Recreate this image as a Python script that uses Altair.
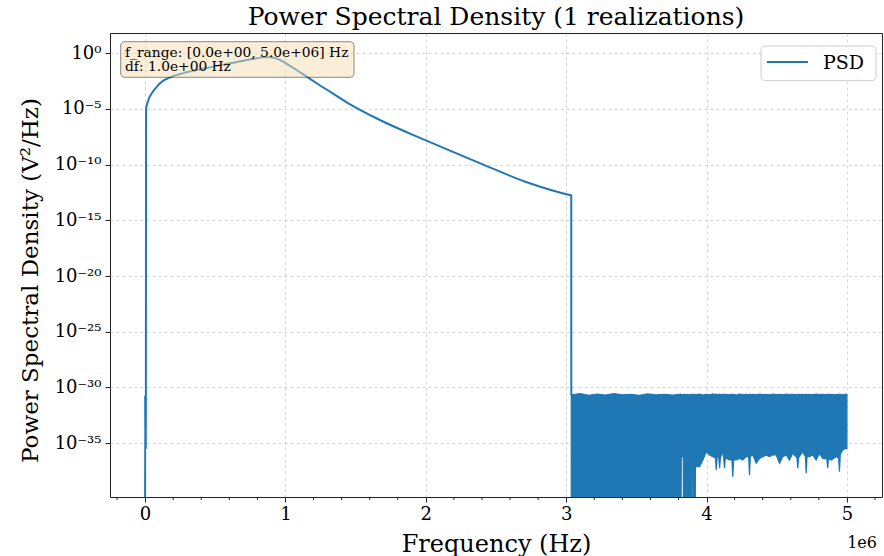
import altair as alt
import pandas as pd

FONT = "DejaVu Serif"
BLUE = "#1f77b4"

# ---------------- data ----------------
# Main PSD trace: frequency (Hz) and log10 of PSD (V^2/Hz)
curve_freq_hz = [0, 800, 1600, 2400, 3200, 4000, 4800, 5600, 7000,
                 23500, 47700, 83300, 130000, 178000, 249000, 368000,
                 486000, 605000, 724000, 795000, 842000, 890000, 937000,
                 984000, 1032000, 1080000, 1151000, 1222000, 1317000,
                 1436000, 1673000, 1993000, 2384000, 2740000, 3025000,
                 3036000, 3036500]
curve_log10_psd = [-42, -30.7, -35.4, -30.8, -35.3, -30.7, -35.4, -30.7, -5.0,
                   -4.19, -3.59, -3.0, -2.46, -2.16, -1.86, -1.50,
                   -1.20, -0.90, -0.60, -0.45, -0.36, -0.36, -0.48,
                   -0.75, -1.14, -1.50, -2.10, -2.69, -3.45,
                   -4.40, -5.99, -7.78, -9.86, -11.67, -12.72,
                   -12.75, -30.7]

# Noise floor above the cut-off: envelope of the dense trace (MHz, log10 PSD)
noise_freq_mhz = [3.036, 3.10, 3.16, 3.22, 3.28, 3.34, 3.40, 3.46, 3.52, 3.58,
                  3.64, 3.70, 3.76, 3.818, 3.820, 3.834, 3.836, 3.891, 3.893,
                  3.901, 3.903, 3.919, 3.921, 3.950, 3.974, 3.998, 4.021,
                  4.045, 4.063, 4.069, 4.075, 4.080, 4.087, 4.093, 4.099,
                  4.116, 4.122, 4.128, 4.134, 4.140, 4.164, 4.181, 4.187,
                  4.193, 4.211, 4.235, 4.258, 4.283, 4.300, 4.306, 4.312,
                  4.330, 4.354, 4.377, 4.401, 4.425, 4.448, 4.472, 4.496,
                  4.520, 4.543, 4.567, 4.591, 4.614, 4.644, 4.650, 4.656,
                  4.685, 4.704, 4.710, 4.716, 4.733, 4.757, 4.781, 4.804,
                  4.828, 4.857, 4.863, 4.869, 4.888, 4.923, 4.941, 4.947,
                  4.953, 4.970, 4.994, 5.000]
noise_upper_log10 = [-30.65, -30.55, -30.70, -30.60, -30.68, -30.55, -30.66, -30.62,
                     -30.70, -30.58, -30.66, -30.62, -30.68, -30.60, -30.64, -30.66,
                     -30.62, -30.65, -30.60, -30.66, -30.64, -30.62, -30.66, -30.60,
                     -30.68, -30.62, -30.66, -30.58, -30.64, -30.60, -30.66, -30.62,
                     -30.66, -30.60, -30.64, -30.62, -30.66, -30.60, -30.64, -30.62,
                     -30.66, -30.60, -30.64, -30.62, -30.68, -30.60, -30.64, -30.62,
                     -30.66, -30.60, -30.64, -30.62, -30.66, -30.60, -30.64, -30.62,
                     -30.66, -30.60, -30.64, -30.62, -30.66, -30.60, -30.64, -30.62,
                     -30.66, -30.60, -30.64, -30.62, -30.66, -30.60, -30.64, -30.62,
                     -30.66, -30.60, -30.64, -30.62, -30.66, -30.60, -30.64, -30.62,
                     -30.66, -30.60, -30.64, -30.62, -30.66, -30.60, -30.64]
noise_lower_log10 = [-42, -42, -42, -42, -42, -42, -42, -42, -42, -42,
                     -42, -42, -42, -42, -36.24, -36.24, -42, -42, -36.26,
                     -36.26, -42, -42, -37.11, -37.11, -36.51, -35.76, -36.06,
                     -36.21, -36.3, -37.40, -36.3, -36.21, -36.3, -37.25, -36.3,
                     -35.76, -36.3, -37.25, -36.3, -36.36, -36.51, -36.5, -38.01,
                     -36.5, -36.51, -36.36, -36.51, -36.21, -36.2, -37.86, -36.2,
                     -36.06, -36.80, -36.36, -36.21, -36.06, -36.21, -36.06, -36.06,
                     -36.80, -36.21, -36.06, -36.51, -35.91, -36.3, -37.25, -36.3,
                     -35.76, -36.2, -37.70, -36.2, -36.21, -36.06, -36.51, -35.91,
                     -36.36, -36.4, -37.25, -36.4, -36.51, -36.21, -36.3, -37.56,
                     -36.0, -35.61, -35.46, -35.46]

# Axis ticks / labels
x_major_hz = [0, 1e6, 2e6, 3e6, 4e6, 5e6]
x_minor_hz = [-0.2e6, 0.2e6, 0.4e6, 0.6e6, 0.8e6, 1.2e6, 1.4e6, 1.6e6, 1.8e6,
              2.2e6, 2.4e6, 2.6e6, 2.8e6, 3.2e6, 3.4e6, 3.6e6, 3.8e6,
              4.2e6, 4.4e6, 4.6e6, 4.8e6, 5.2e6]
y_major = [1e0, 1e-5, 1e-10, 1e-15, 1e-20, 1e-25, 1e-30, 1e-35]
y_major_labels = ["10⁰", "10⁻⁵", "10⁻¹⁰", "10⁻¹⁵", "10⁻²⁰", "10⁻²⁵", "10⁻³⁰", "10⁻³⁵"]
x_domain = [-0.25e6, 5.25e6]
y_domain = [1.48e-40, 66.0]

title_text = "Power Spectral Density (1 realizations)"
x_title = "Frequency (Hz)"
y_title = "Power Spectral Density (V²/Hz)"
info_lines = ["f_range: [0.0e+00, 5.0e+06] Hz", "df: 1.0e+00 Hz"]
legend_label = "PSD"
offset_label = "1e6"

# ---------------- tables ----------------
curve_df = pd.DataFrame({"f": curve_freq_hz,
                         "psd": [10.0 ** v for v in curve_log10_psd]})
noise_df = pd.DataFrame({"f": [v * 1e6 for v in noise_freq_mhz],
                         "hi": [10.0 ** v for v in noise_upper_log10],
                         "lo": [10.0 ** v for v in noise_lower_log10]})
minor_df = pd.DataFrame({"f": x_minor_hz})
one = alt.Data(values=[{"k": 0}])

W, H = 772, 464

xscale = alt.Scale(domain=x_domain, nice=False, zero=False)
yscale = alt.Scale(type="log", domain=y_domain, nice=False)

label_arr = "[" + ",".join("'" + s + "'" for s in y_major_labels) + "]"

x_axis = alt.Axis(values=x_major_hz, labelExpr="format(datum.value/1e6, 'd')",
                  title=x_title, titleFont=FONT, titleFontSize=24, titleFontWeight="normal",
                  titleColor="black", titleY=54, titleBaseline="alphabetic",
                  labelFont=FONT, labelFontSize=18, labelColor="black", labelPadding=3,
                  tickSize=5, tickColor="#222", domain=False, grid=True,
                  gridDash=[3, 3], gridColor="#b0b0b0", gridOpacity=0.5,
                  labelFlush=False)
y_axis = alt.Axis(values=y_major, labelExpr=label_arr + "[round(-log(datum.value)/LN10/5)]",
                  title=y_title, titleFont=FONT, titleFontSize=23, titleFontWeight="normal",
                  titleColor="black", titleX=-80, titleY=H / 2 + 15, titleAngle=270,
                  titleAlign="center", titleBaseline="middle",
                  labelFont=FONT, labelFontSize=18, labelColor="black", labelPadding=4,
                  tickSize=5, tickColor="#222", domain=False, grid=True,
                  gridDash=[3, 3], gridColor="#b0b0b0", gridOpacity=0.5,
                  labelFlush=False)

line = alt.Chart(curve_df).mark_line(color=BLUE, strokeWidth=2, clip=True,
                                     interpolate="monotone").encode(
    x=alt.X("f:Q", scale=xscale, axis=x_axis),
    y=alt.Y("psd:Q", scale=yscale, axis=y_axis),
    order=alt.Order("f:Q"),
)

noise = alt.Chart(noise_df).mark_area(color=BLUE, opacity=1, stroke=BLUE,
                                      strokeWidth=1.2, clip=True).encode(
    x=alt.X("f:Q", scale=xscale, axis=x_axis),
    y=alt.Y("hi:Q", scale=yscale, axis=y_axis),
    y2="lo:Q",
)

minor = alt.Chart(minor_df).mark_rule(color="#222", strokeWidth=1).encode(
    x=alt.X("f:Q", scale=xscale, axis=x_axis),
    y=alt.value(H),
    y2=alt.value(H + 3),
)

info_box = alt.Chart(one).mark_rect(fill="#f5deb3", fillOpacity=0.5, stroke="black",
                                    strokeOpacity=0.45, strokeWidth=1, cornerRadius=4).encode(
    x=alt.value(10.7), x2=alt.value(244), y=alt.value(8.7), y2=alt.value(44.3))
info_t1 = alt.Chart(one).mark_text(text=info_lines[0], font=FONT, fontSize=13.8, color="black",
                                   align="left", baseline="alphabetic").encode(
    x=alt.value(15), y=alt.value(23.5))
info_t2 = alt.Chart(one).mark_text(text=info_lines[1], font=FONT, fontSize=13.8, color="black",
                                   align="left", baseline="alphabetic").encode(
    x=alt.value(15), y=alt.value(38))

leg_box = alt.Chart(one).mark_rect(fill="white", fillOpacity=0.85, stroke="#cccccc",
                                   strokeWidth=1, cornerRadius=4).encode(
    x=alt.value(651), x2=alt.value(766), y=alt.value(13), y2=alt.value(47.7))
leg_line = alt.Chart(one).mark_rule(color=BLUE, strokeWidth=2).encode(
    x=alt.value(657), x2=alt.value(698), y=alt.value(29))
leg_text = alt.Chart(one).mark_text(text=legend_label, font=FONT, fontSize=19, color="black",
                                    align="left", baseline="alphabetic").encode(
    x=alt.value(713), y=alt.value(35.5))

offset_text = alt.Chart(one).mark_text(text=offset_label, font=FONT, fontSize=16, color="black",
                                       align="right", baseline="alphabetic").encode(
    x=alt.value(767), y=alt.value(515))

chart = alt.layer(line, noise, minor, info_box, info_t1, info_t2,
                  leg_box, leg_line, leg_text, offset_text).properties(
    width=W, height=H,
    autosize=alt.AutoSizeParams(type="none"),
    padding={"left": 110, "top": 33, "right": 2, "bottom": 59},
    title=alt.TitleParams(text=title_text, font=FONT, fontSize=25, fontWeight="normal",
                          color="black", anchor="middle", offset=3),
    background="white",
).configure_view(stroke="#222", strokeWidth=1)

chart.save("out.html", embed_options={"renderer": "svg", "actions": False})
